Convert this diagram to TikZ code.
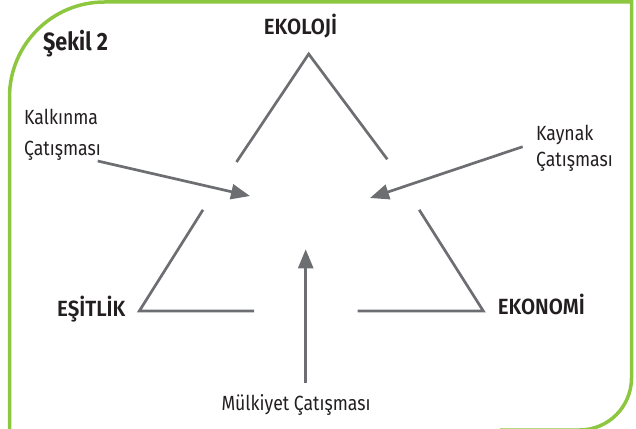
\documentclass[tikz,border=0pt]{standalone}
\usepackage{fontspec}
\setmainfont{Fira Sans}[FakeStretch=0.86]
\newfontfamily\semib{Fira Sans SemiBold}[FakeStretch=0.93]
\usetikzlibrary{arrows.meta}
\definecolor{framegreen}{HTML}{8DC63F}
\definecolor{linegray}{HTML}{6D6E71}
\definecolor{txt}{HTML}{231F20}
\begin{document}
\begin{tikzpicture}[x=1pt,y=-1pt,
  tri/.style={draw=linegray, line width=2.7pt, line cap=butt, line join=miter},
  arr/.style={draw=linegray, line width=2.7pt, -{Triangle[length=19pt,width=15pt]}},
  lbl/.style={inner sep=0pt, text=txt, font=\fontsize{20.5}{24}\selectfont},
  corner/.style={inner sep=0pt, text=txt, font=\fontsize{22}{24}\semib},
  hd/.style={inner sep=0pt, text=txt, font=\fontsize{25}{28}\selectfont\bfseries}]
\useasboundingbox (0,0) rectangle (636,428);
\begin{scope}
\clip (0,0) rectangle (636,428);
\draw[framegreen, line width=3.5pt] (9.5,440) -- (9.5,97)
  arc[start angle=180, end angle=270, radius=95] -- (631.5,1.8) -- (631.5,378)
  arc[start angle=0, end angle=90, radius=52] -- (500,430);
\end{scope}
% triangle
\draw[tri] (236.5,162) -- (308.7,54) -- (387.3,159.3);
\draw[tri] (203,209.8) -- (139.3,311) -- (254,311);
\draw[tri] (357.7,311) -- (483.3,311) -- (419.2,209.8);
% labels
\node[hd, anchor=base west] (sekil) at (43,50) {Şekil 2};
\node[corner, anchor=base] (ekoloji) at (300.5,34.3) {EKOLOJİ};
\node[corner, anchor=base west] (esitlik) at (57,316.7) {EŞİTLİK};
\node[corner, anchor=base west] (ekonomi) at (497.7,314.3) {EKONOMİ};
\node[lbl, anchor=base west] (kalk1) at (24,124) {Kalkınma};
\node[lbl, anchor=base west] (kalk2) at (24,155) {Çatışması};
\node[lbl, anchor=base west] (kay1) at (536,140.7) {Kaynak};
\node[lbl, anchor=base west] (kay2) at (536,166.7) {Çatışması};
\node[lbl, anchor=base] (mulk) at (296,410) {Mülkiyet Çatışması};
% arrows
\coordinate (kalkTail) at (97.7,161);
\coordinate (kalkTip) at (250,196);
\coordinate (kayTail) at (522.7,146.7);
\coordinate (kayTip) at (370,198);
\coordinate (mulkTail) at (305.7,382.7);
\coordinate (mulkTip) at (305.7,249.3);
\draw[arr] (kalkTail) -- (kalkTip);
\draw[arr] (kayTail) -- (kayTip);
\draw[arr] (mulkTail) -- (mulkTip);
\end{tikzpicture}
\end{document}
